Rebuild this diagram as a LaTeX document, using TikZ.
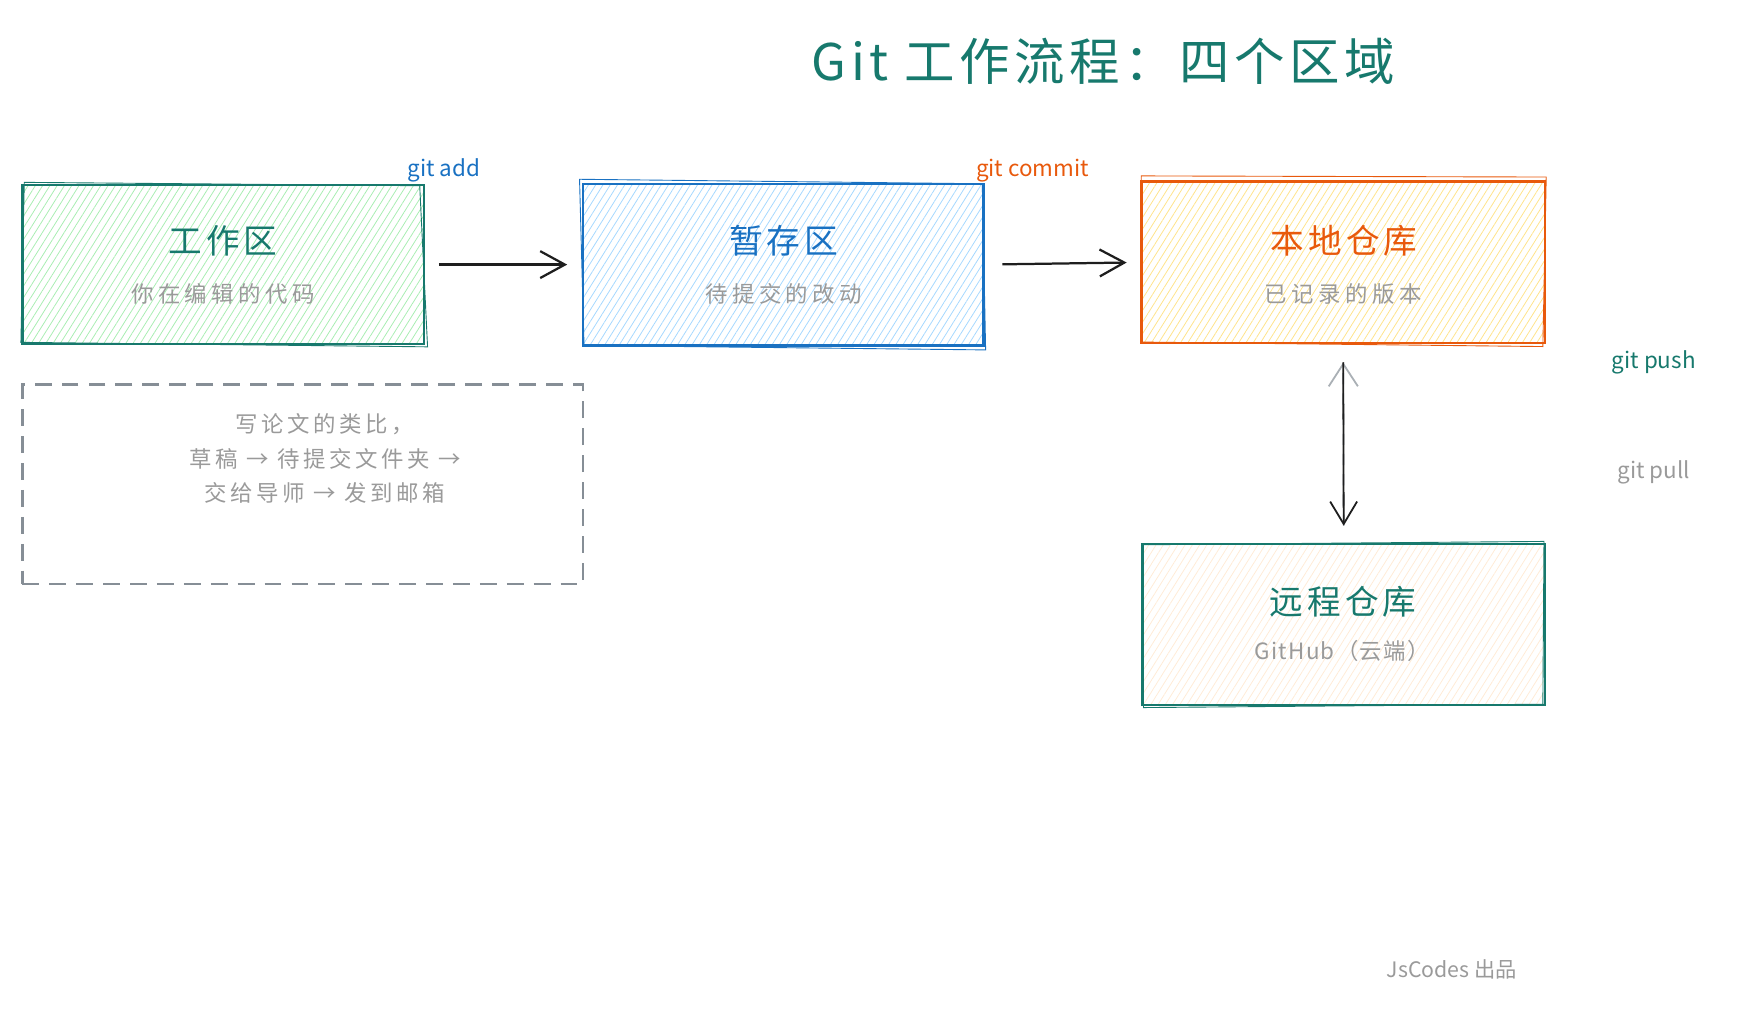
\documentclass[tikz,border=0pt]{standalone}
\usepackage{fontspec}
\setmainfont{Noto Sans CJK SC}
\usetikzlibrary{arrows.meta,patterns.meta}
\definecolor{cteal}{HTML}{17796D}
\definecolor{cblue}{HTML}{1971C2}
\definecolor{corange}{HTML}{E8590C}
\definecolor{cgreenh}{HTML}{A8EDB2}
\definecolor{cblueh}{HTML}{A5D8FF}
\definecolor{cyellowh}{HTML}{FFE38A}
\definecolor{ccreamh}{HTML}{FFEBD6}
\definecolor{cgray}{HTML}{9A9A9A}
\definecolor{cdash}{HTML}{868E96}
\definecolor{cink}{HTML}{1E1E1E}
\begin{document}
\begin{tikzpicture}[x=1pt,y=-1pt,
  zone/.style={draw, line width=2.2pt, inner sep=0pt,
    pattern={Lines[angle=58,distance=5.5pt,line width=0.7pt]}},
  ttl/.style={font=\fontsize{30}{36}\selectfont\addfontfeatures{LetterSpace=12}},
  sub/.style={text=cgray, font=\fontsize{20}{24}\selectfont\addfontfeatures{LetterSpace=20}},
  lbl/.style={font=\fontsize{20}{24}\selectfont},
  flow/.style={draw=cink, line width=2pt, -{Straight Barb[length=22pt,width=24pt,line width=2pt]}},
  flowv/.style={draw=cink, line width=1.6pt, -{Straight Barb[length=20pt,width=24pt,line width=1.6pt]}},
  flowg/.style={draw=cdash!70, line width=1.6pt, dash pattern=on 10pt off 8pt, -{Straight Barb[length=20pt,width=26pt,line width=1.6pt]}},
  analog/.style={draw=cdash, line width=2.4pt, dash pattern=on 15pt off 9pt, inner sep=0pt},
  jitter/.style={line width=0.8pt}
]
\useasboundingbox (0,0) rectangle (1568,901);

% title
\node[text=cteal, font=\fontsize{45}{50}\selectfont\addfontfeatures{LetterSpace=9}] (title) at (984,55) {Git 工作流程：四个区域};

% zones
\node[zone, draw=cteal, pattern color=cgreenh, minimum width=358pt, minimum height=142pt] (work) at (199,236) {};
\node[zone, draw=cblue, pattern color=cblueh, minimum width=357pt, minimum height=144pt] (stage) at (698.5,236) {};
\node[zone, draw=corange, pattern color=cyellowh, minimum width=360pt, minimum height=144pt] (local) at (1198,234) {};
\node[zone, draw=cteal, pattern color=ccreamh, minimum width=359pt, minimum height=144pt] (remote) at (1198.5,557) {};

% sketchy second strokes
\draw[jitter, cteal] ([shift={(2,-2)}]work.north west) -- ([shift={(-4,1)}]work.north east) -- ([shift={(3,2)}]work.south east) -- ([shift={(-1,-2)}]work.south west) -- cycle;
\draw[jitter, cblue] ([shift={(-2,-3)}]stage.north west) -- ([shift={(-2,1)}]stage.north east) -- ([shift={(1,3)}]stage.south east) -- ([shift={(2,-1)}]stage.south west) -- cycle;
\draw[jitter, corange] ([shift={(1,-4)}]local.north west) -- ([shift={(0,-3)}]local.north east) -- ([shift={(-3,2)}]local.south east) -- ([shift={(2,-2)}]local.south west) -- cycle;
\draw[jitter, cteal] ([shift={(1,2)}]remote.north west) -- ([shift={(-2,-1)}]remote.north east) -- ([shift={(-3,-2)}]remote.south east) -- ([shift={(2,1)}]remote.south west) -- cycle;

% zone texts
\node[ttl, text=cteal] (workT) at (199,215) {工作区};
\node[sub] (workS) at (199,262) {你在编辑的代码};
\node[ttl, text=cblue] (stageT) at (699,215) {暂存区};
\node[sub] (stageS) at (699,262) {待提交的改动};
\node[ttl, text=corange] (localT) at (1199,215) {本地仓库};
\node[sub] (localS) at (1198,262) {已记录的版本};
\node[ttl, text=cteal] (remoteT) at (1198,537) {远程仓库};
\node[text=cgray, font=\fontsize{20}{24}\selectfont\addfontfeatures{LetterSpace=6}] (remoteS) at (1197,581) {GitHub（云端）};

% command labels
\node[lbl, text=cblue] (addL) at (396,152) {git add};
\node[lbl, text=corange] (commitL) at (921,152) {git commit};
\node[lbl, text=cteal] (pushL) at (1475,323) {git push};
\node[lbl, text=cgray] (pullL) at (1475,421) {git pull};

% connectors
\draw[flow, shorten <=13pt, shorten >=13pt] (work.east) -- (stage.west);
\draw[flow, shorten <=16pt, shorten >=12pt] (stage.east) -- (local.west);
\draw[flowg, shorten <=15pt, shorten >=16pt] (remote.north) -- (local.south);
\draw[flowv, shorten <=16pt, shorten >=15pt] (local.south) -- (remote.north);

% analogy box
\node[analog, minimum width=500pt, minimum height=178pt] (analogy) at (270,432) {};
\node[text=cgray, align=center, font=\fontsize{20}{31}\selectfont\addfontfeatures{LetterSpace=16}] (analogyT) at (290,409) {写论文的类比，\\草稿 → 待提交文件夹 →\\交给导师 → 发到邮箱};

% credit
\node[lbl, text=cgray, font=\fontsize{19}{22}\selectfont] (credit) at (1295,865) {JsCodes 出品};
\end{tikzpicture}
\end{document}
